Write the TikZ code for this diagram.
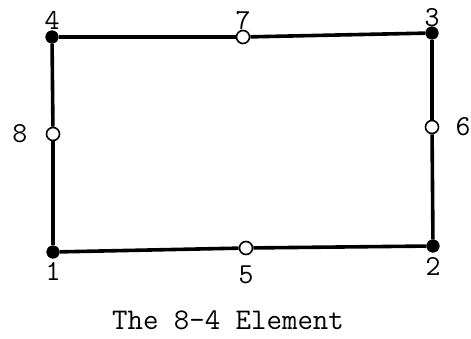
\documentclass[tikz,border=0pt]{standalone}
\usetikzlibrary{positioning}

\begin{document}
\begin{tikzpicture}[
  x=0.5pt, y=-0.5pt,
  font=\ttfamily\fontsize{14.5}{16}\selectfont,
  every label/.style={inner sep=1pt},
  % corner node (filled black)
  corner/.style={circle, draw=black, fill=black, inner sep=0pt,
                 minimum size=6.2pt},
  % mid-side node (open)
  midside/.style={circle, draw=black, fill=white, line width=0.8pt,
                  inner sep=0pt, minimum size=6.5pt},
  % element side
  side/.style={draw=black, line width=1.8pt},
]
\useasboundingbox (0,0) rectangle (471,338);

%% -- corner nodes ----------------------------------------------------
\node[corner, label={[label distance=0.8pt]below:1}] (n1) at (53,252) {};
\node[corner, label={[label distance=1.2pt]below:2}] (n2) at (433,246) {};
\node[corner, label={[label distance=-1.5pt]above:3}] (n3) at (432,33) {};
\node[corner, label={[label distance=-0.5pt]above:4}] (n4) at (52,37) {};

%% -- mid-side nodes --------------------------------------------------
\node[midside, label={[label distance=4pt]below:5}]  (n5) at (246,248) {};
\node[midside, label={[label distance=7pt]right:6}]  (n6) at (432,127) {};
\node[midside, label={[label distance=-1.5pt]above:7}] (n7) at (243,37) {};
\node[midside, label={[label distance=8pt]left:8}]   (n8) at (53,134) {};

%% -- sides -----------------------------------------------------------
\foreach \a/\b in {n1/n5,n5/n2,n2/n6,n6/n3,n3/n7,n7/n4,n4/n8,n8/n1}
  \draw[side] (\a) -- (\b);

%% -- caption ---------------------------------------------------------
\node[font=\ttfamily\fontsize{15}{17}\selectfont] (cap) at (228,320)
  {The 8-4 Element};

\end{tikzpicture}
\end{document}
